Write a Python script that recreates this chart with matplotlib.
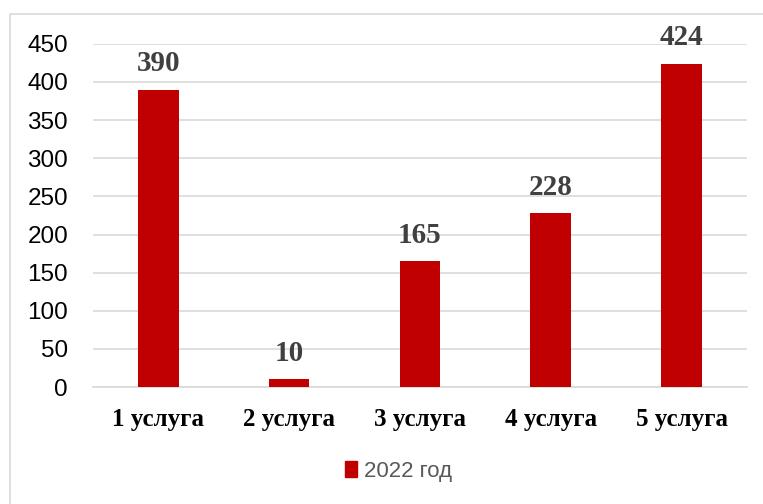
import matplotlib.pyplot as plt
from matplotlib.patches import Rectangle, Patch

# данные
categories = ['1 услуга', '2 услуга', '3 услуга', '4 услуга', '5 услуга']
values_2022 = [390, 10, 165, 228, 424]
yticks = [0, 50, 100, 150, 200, 250, 300, 350, 400, 450]
series_name = '2022 год'

bar_color = '#C00000'
grid_color = '#D9D9D9'

fig = plt.figure(figsize=(7.63, 5.04), dpi=100)
ax = fig.add_axes([0.1219, 0.232, 0.857, 0.681])

# рамка области диаграммы
fig.patches.append(Rectangle((10 / 763, -0.1), 1.2, 1 - 14 / 504 + 0.1,
                             transform=fig.transFigure, fill=False,
                             edgecolor=grid_color, linewidth=1.2))

x = range(len(categories))
bars = ax.bar(x, values_2022, width=0.31, color=bar_color, zorder=3)
ax.bar_label(bars, padding=9, fontsize=21, fontweight='bold',
             family='Liberation Serif', color='#404040')

ax.set_xlim(-0.5, len(categories) - 0.5)
ax.set_ylim(0, 450)
ax.set_yticks(yticks)
ax.set_xticks(list(x))
ax.set_xticklabels(categories, family='Liberation Serif', fontweight='bold', fontsize=18)
ax.tick_params(axis='x', length=0, pad=15)
ax.tick_params(axis='y', length=0, pad=18, labelsize=17.5)
for lbl in ax.get_yticklabels():
    lbl.set_family('Liberation Sans')

ax.grid(axis='y', color=grid_color, linewidth=1.2, zorder=0)
for s in ['top', 'right', 'left']:
    ax.spines[s].set_visible(False)
ax.spines['bottom'].set_color(grid_color)
ax.spines['bottom'].set_linewidth(1.2)

leg = fig.legend(handles=[Patch(color=bar_color, label=series_name)],
                 loc='center', bbox_to_anchor=(0.522, 0.065), frameon=False,
                 prop={'family': 'Liberation Sans', 'size': 16},
                 handlelength=0.55, handleheight=0.75, handletextpad=0.3)
for t in leg.get_texts():
    t.set_color('#595959')

fig.savefig('out.png', dpi=100)
